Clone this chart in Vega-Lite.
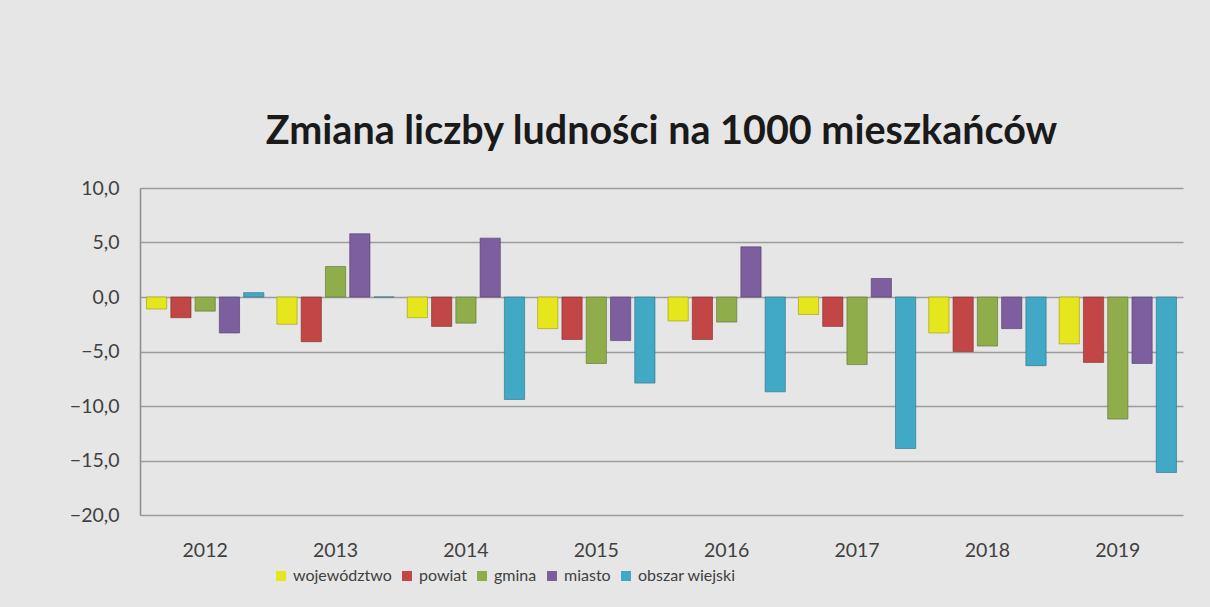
{
  "$schema": "https://vega.github.io/schema/vega-lite/v6.json",
  "autosize": {"type": "none"},
  "width": 1043,
  "height": 327,
  "padding": {"left": 140, "top": 188, "right": 27, "bottom": 92},
  "background": "#e6e6e6",
  "title": {
    "text": "Zmiana liczby ludności na 1000 mieszkańców",
    "anchor": "middle",
    "font": "Lato",
    "fontSize": 39.5,
    "fontWeight": "bold",
    "color": "#1a1a1a",
    "baseline": "alphabetic",
    "offset": -5
  },
  "data": {
    "values": [
      {"rok": "2012", "seria": "województwo", "v": -1.1},
      {"rok": "2012", "seria": "powiat", "v": -1.9},
      {"rok": "2012", "seria": "gmina", "v": -1.3},
      {"rok": "2012", "seria": "miasto", "v": -3.3},
      {"rok": "2012", "seria": "obszar wiejski", "v": 0.4},
      {"rok": "2013", "seria": "województwo", "v": -2.5},
      {"rok": "2013", "seria": "powiat", "v": -4.1},
      {"rok": "2013", "seria": "gmina", "v": 2.8},
      {"rok": "2013", "seria": "miasto", "v": 5.8},
      {"rok": "2013", "seria": "obszar wiejski", "v": 0.0},
      {"rok": "2014", "seria": "województwo", "v": -1.9},
      {"rok": "2014", "seria": "powiat", "v": -2.7},
      {"rok": "2014", "seria": "gmina", "v": -2.4},
      {"rok": "2014", "seria": "miasto", "v": 5.4},
      {"rok": "2014", "seria": "obszar wiejski", "v": -9.4},
      {"rok": "2015", "seria": "województwo", "v": -2.9},
      {"rok": "2015", "seria": "powiat", "v": -3.9},
      {"rok": "2015", "seria": "gmina", "v": -6.1},
      {"rok": "2015", "seria": "miasto", "v": -4.0},
      {"rok": "2015", "seria": "obszar wiejski", "v": -7.9},
      {"rok": "2016", "seria": "województwo", "v": -2.2},
      {"rok": "2016", "seria": "powiat", "v": -3.9},
      {"rok": "2016", "seria": "gmina", "v": -2.3},
      {"rok": "2016", "seria": "miasto", "v": 4.6},
      {"rok": "2016", "seria": "obszar wiejski", "v": -8.7},
      {"rok": "2017", "seria": "województwo", "v": -1.6},
      {"rok": "2017", "seria": "powiat", "v": -2.7},
      {"rok": "2017", "seria": "gmina", "v": -6.2},
      {"rok": "2017", "seria": "miasto", "v": 1.7},
      {"rok": "2017", "seria": "obszar wiejski", "v": -13.9},
      {"rok": "2018", "seria": "województwo", "v": -3.3},
      {"rok": "2018", "seria": "powiat", "v": -5.0},
      {"rok": "2018", "seria": "gmina", "v": -4.5},
      {"rok": "2018", "seria": "miasto", "v": -2.9},
      {"rok": "2018", "seria": "obszar wiejski", "v": -6.3},
      {"rok": "2019", "seria": "województwo", "v": -4.3},
      {"rok": "2019", "seria": "powiat", "v": -6.0},
      {"rok": "2019", "seria": "gmina", "v": -11.2},
      {"rok": "2019", "seria": "miasto", "v": -6.1},
      {"rok": "2019", "seria": "obszar wiejski", "v": -16.1}
    ]
  },
  "mark": {"type": "bar", "strokeWidth": 1, "strokeOpacity": 0.6},
  "encoding": {
    "x": {
      "field": "rok",
      "type": "nominal",
      "scale": {"paddingInner": 0.1, "paddingOuter": 0.05},
      "axis": {
        "title": null,
        "labelAngle": 0,
        "labelFont": "Lato",
        "labelFontSize": 19.5,
        "labelColor": "#404040",
        "labelPadding": 26,
        "ticks": false,
        "domain": false,
        "grid": false
      }
    },
    "xOffset": {
      "field": "seria",
      "type": "nominal",
      "sort": ["województwo", "powiat", "gmina", "miasto", "obszar wiejski"],
      "scale": {"paddingInner": 0.167, "paddingOuter": 0}
    },
    "y": {
      "field": "v",
      "type": "quantitative",
      "scale": {"domain": [-20, 10], "nice": false, "zero": false},
      "axis": {
        "title": null,
        "values": [-20, -15, -10, -5, 0, 5, 10],
        "labelExpr": "replace(format(datum.value, '.1f'), '.', ',')",
        "labelFont": "Lato",
        "labelFontSize": 19.5,
        "labelColor": "#404040",
        "labelPadding": 21,
        "ticks": false,
        "domain": true,
        "domainColor": "#8c8c8c",
        "domainWidth": 1.5,
        "grid": true,
        "gridColor": "#9c9c9c",
        "gridWidth": 1.5
      }
    },
    "color": {
      "field": "seria",
      "type": "nominal",
      "sort": ["województwo", "powiat", "gmina", "miasto", "obszar wiejski"],
      "scale": {
        "domain": ["województwo", "powiat", "gmina", "miasto", "obszar wiejski"],
        "range": ["#e6e61c", "#c24646", "#8fad4a", "#7d5f9f", "#41a8c6"]
      },
      "legend": {
        "title": null,
        "orient": "none",
        "direction": "horizontal",
        "legendX": 133,
        "legendY": 380,
        "symbolType": "square",
        "symbolSize": 100,
        "symbolStrokeWidth": 0,
        "labelFont": "Lato",
        "labelFontSize": 16,
        "labelColor": "#404040",
        "labelOffset": 4,
        "columnPadding": 7
      }
    },
    "stroke": {
      "field": "seria",
      "type": "nominal",
      "scale": {
        "domain": ["województwo", "powiat", "gmina", "miasto", "obszar wiejski"],
        "range": ["#9a9a10", "#7e2c2c", "#5c7230", "#4e3b66", "#2a6e82"]
      },
      "legend": null
    }
  },
  "config": {
    "view": {"stroke": null}
  }
}
